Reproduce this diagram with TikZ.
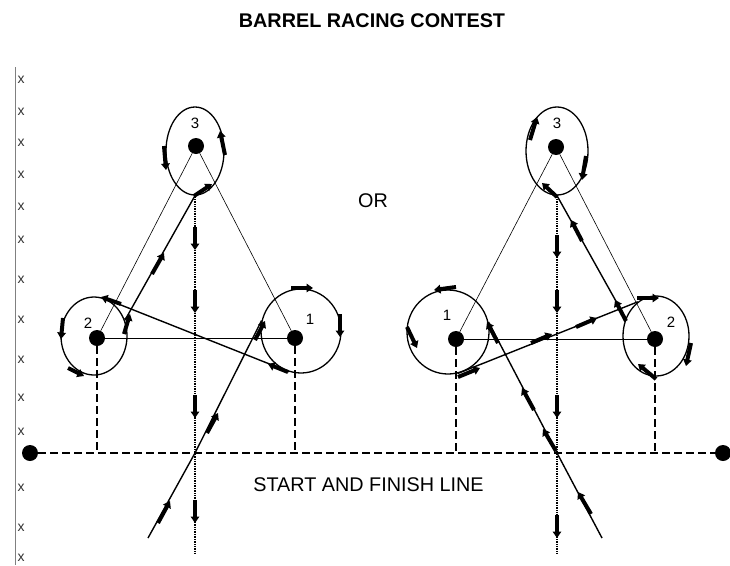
\documentclass[tikz,border=0pt]{standalone}
\usepackage{fontspec}
\setmainfont{Liberation Sans}
\usetikzlibrary{arrows.meta,shapes.geometric}
\begin{document}
\begin{tikzpicture}[x=1pt,y=-1pt,
  barrel/.style={circle, fill, inner sep=0pt, minimum size=16pt},
  lap/.style={ellipse, draw, line width=1.3pt, inner sep=0pt},
  guide/.style={line width=0.6pt},
  ride/.style={line width=1.4pt},
  home/.style={line width=1.6pt, dash pattern=on 1pt off 0.7pt},
  runarrow/.style={line width=4pt, -{Triangle[length=6.5pt,width=8.5pt]}},
  startline/.style={line width=1.6pt, dash pattern=on 8pt off 4pt},
  num/.style={font=\fontsize{15}{17}\selectfont},
  tick/.style={font=\fontsize{14}{15}\selectfont, text=black!80},
  big/.style={font=\fontsize{19.8}{22}\selectfont}]
\useasboundingbox (0,0) rectangle (730,565);
\node[big, font=\fontsize{19.8}{22}\selectfont\bfseries] (title) at (372,20.5) {BARREL RACING CONTEST};
\node[big] (or) at (373,201) {OR};
\node[big] (finish) at (368.5,485) {START AND FINISH LINE};
% arena side
\draw[gray, line width=1pt] (15,67) -- (15,565);
\foreach \y in {80,112,143,175,207,240,280,320,360,398,432,488,528,558}
  \node[tick] (tk\y) at (21,\y) {x};
% barrels
\node[barrel] (lb1) at (295,338){};
\node[barrel] (lb2) at (97,338){};
\node[barrel] (lb3) at (196,146){};
\node[barrel] (rb1) at (456,339){};
\node[barrel] (rb2) at (655,339){};
\node[barrel] (rb3) at (556,147){};
\node[num] (ln1) at (310,319) {1};
\node[num] (ln2) at (88,323) {2};
\node[num] (ln3) at (195,123) {3};
\node[num] (rn1) at (447,315) {1};
\node[num] (rn2) at (671,322) {2};
\node[num] (rn3) at (557,123) {3};
\draw[guide] (lb3) -- (lb2);
\draw[guide] (lb3) -- (lb1);
\draw[guide] (lb2) -- (lb1);
\draw[guide] (rb3) -- (rb1);
\draw[guide] (rb3) -- (rb2);
\draw[guide] (rb1) -- (rb2);
% start and finish line
\node[barrel] (ls) at (30,453){};
\node[barrel] (rs) at (723,453){};
\draw[startline] (ls) -- (rs);
\draw[startline] (lb2) -- (lb2 |- ls);
\draw[startline] (lb1) -- (lb1 |- ls);
\draw[startline] (rb1) -- (rb1 |- rs);
\draw[startline] (rb2) -- (rb2 |- rs);
% loops round the barrels
\node[lap, minimum width=80pt, minimum height=84pt] (ll1) at (301,331){};
\node[lap, minimum width=66pt, minimum height=78pt] (ll2) at (94,336){};
\node[lap, minimum width=58pt, minimum height=88pt] (ll3) at (195,151){};
\node[lap, minimum width=82pt, minimum height=84pt] (rl1) at (448,332){};
\node[lap, minimum width=66pt, minimum height=80pt] (rl2) at (656,336){};
\node[lap, minimum width=62pt, minimum height=88pt] (rl3) at (557,151){};
% left run
\coordinate (le0) at (148,538);
\coordinate (lx) at (195,453);
\coordinate (lend) at (195,553);
\draw[ride] (le0) -- (lx) -- (ll1.165);
\draw[ride] (ll1.254) -- (ll2.78);
\draw[ride] (ll2.27) -- (ll3.south);
\draw[home] (ll3.south) -- (lend);
% right run
\coordinate (re0) at (602,538);
\coordinate (rx) at (557,453);
\coordinate (rend) at (557,553);
\draw[ride] (re0) -- (rx) -- (rl1.14);
\draw[ride] (rl1.283) -- (rl2.118);
\draw[ride] (rl2.150) -- (rl3.south);
\draw[home] (rl3.south) -- (rend);
% arrows, left
\draw[runarrow] (158,523) -- (170,501);
\draw[runarrow] (207,433) -- (218,413);
\draw[runarrow] (255,340) -- (265,321);
\draw[runarrow] (291,288) -- (313,288);
\draw[runarrow] (340,314) -- (340,337);
\draw[runarrow] (288,372) -- (268,364);
\draw[runarrow] (121,304) -- (101,297);
\draw[runarrow] (63,318) -- (61,339);
\draw[runarrow] (68,368) -- (84,376);
\draw[runarrow] (124,334) -- (130,314);
\draw[runarrow] (152,274) -- (164,253);
\draw[runarrow] (194,196) -- (212,184);
\draw[runarrow] (225,155) -- (220,131);
\draw[runarrow] (164,146) -- (166,170);
\foreach \y in {227,290,395,500}
  \draw[runarrow] (195,\y) -- (195,\y+23);
% arrows, right
\draw[runarrow] (591,514) -- (578,492);
\draw[runarrow] (556,451) -- (543,429);
\draw[runarrow] (534,410) -- (522,388);
\draw[runarrow] (498,343) -- (487,322);
\draw[runarrow] (456,287) -- (434,290);
\draw[runarrow] (407,327) -- (417,348);
\draw[runarrow] (458,377) -- (480,368);
\draw[runarrow] (531,343) -- (552,334);
\draw[runarrow] (576,327) -- (597,318);
\draw[runarrow] (637,298) -- (659,298);
\draw[runarrow] (691,343) -- (686,366);
\draw[runarrow] (656,379) -- (638,364);
\draw[runarrow] (626,321) -- (615,300);
\draw[runarrow] (582,241) -- (571,220);
\draw[runarrow] (557,197) -- (542,183);
\draw[runarrow] (530,140) -- (537,117);
\draw[runarrow] (586,156) -- (582,180);
\foreach \y in {235,290,395,515}
  \draw[runarrow] (557,\y) -- (557,\y+23);
\end{tikzpicture}
\end{document}
